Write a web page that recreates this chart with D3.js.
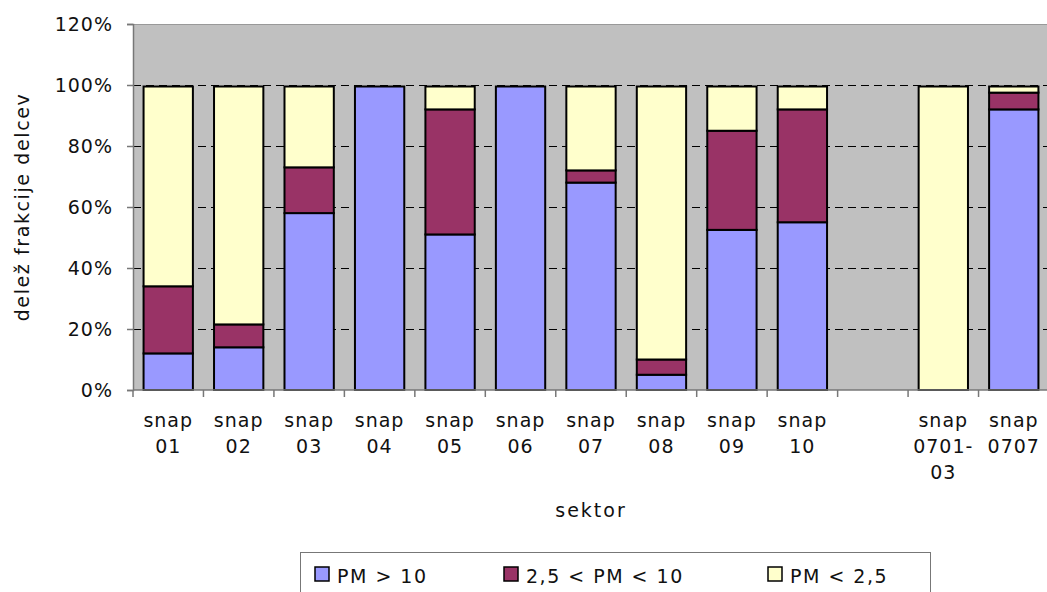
<!DOCTYPE html>
<html>
<head>
<meta charset="utf-8">
<script src="https://cdn.jsdelivr.net/npm/d3@7/dist/d3.min.js"></script>
<style>
  html, body { margin: 0; padding: 0; background: #fff; }
  svg { display: block; }
  text { font-family: "DejaVu Sans", Verdana, sans-serif; fill: #111; }
</style>
</head>
<body>
<svg id="chart" width="1047" height="592"></svg>
<script>
// ---- data ----
const categories = ["snap 01", "snap 02", "snap 03", "snap 04", "snap 05", "snap 06", "snap 07",
                    "snap 08", "snap 09", "snap 10", "", "snap 0701-03", "snap 0707"];
const tickLabels = [["snap", "01"], ["snap", "02"], ["snap", "03"], ["snap", "04"], ["snap", "05"],
                    ["snap", "06"], ["snap", "07"], ["snap", "08"], ["snap", "09"], ["snap", "10"],
                    [], ["snap", "0701-", "03"], ["snap", "0707"]];
const seriesNames = ["PM > 10", "2,5 < PM < 10", "PM < 2,5"];
const pmGt10 = [12, 14, 58, 100, 51, 100, 68, 5, 52.5, 55, null, 0, 92];
const pmMid  = [22, 7.5, 15, 0, 41, 0, 4, 5, 32.5, 37, null, 0, 5.5];
const pmLt25 = [66, 78.5, 27, 0, 8, 0, 28, 90, 15, 8, null, 100, 2.5];
const yTicks = [0, 20, 40, 60, 80, 100, 120];
const yTitle = "delež frakcije delcev";
const xTitle = "sektor";
const colors = ["#9999FF", "#993366", "#FFFFCC"];

// ---- layout ----
const svg = d3.select("#chart");
const plot = { left: 133, top: 24, right: 1049, bottom: 390 };
const FS = 19;

const x = d3.scaleBand().domain(d3.range(categories.length))
  .range([plot.left, plot.right]).paddingInner(0.3).paddingOuter(0.15);
const y = d3.scaleLinear().domain([0, 120]).range([plot.bottom, plot.top]);

// background
svg.append("rect")
  .attr("x", plot.left).attr("y", plot.top)
  .attr("width", plot.right - plot.left).attr("height", plot.bottom - plot.top)
  .attr("fill", "#C0C0C0");
svg.append("line").attr("x1", plot.left).attr("x2", plot.right)
  .attr("y1", plot.top + 0.5).attr("y2", plot.top + 0.5)
  .attr("stroke", "#999").attr("stroke-width", 1);

// gridlines
svg.append("g").selectAll("line").data(yTicks.filter(t => t > 0 && t < 120)).join("line")
  .attr("x1", plot.left).attr("x2", plot.right)
  .attr("y1", d => Math.round(y(d)) + 0.5).attr("y2", d => Math.round(y(d)) + 0.5)
  .attr("stroke", "#000").attr("stroke-width", 1).attr("stroke-dasharray", "8,5");

// stacked bars
const rows = categories.map((c, i) => ({ i, a: pmGt10[i], b: pmMid[i], c: pmLt25[i] }))
  .filter(r => r.a !== null);
const stacked = d3.stack().keys(["a", "b", "c"])(rows);
svg.append("g").selectAll("g").data(stacked).join("g")
  .attr("fill", (d, k) => colors[k])
  .selectAll("rect").data(d => d).join("rect")
  .attr("x", d => x(d.data.i))
  .attr("width", x.bandwidth())
  .attr("y", d => y(d[1]) + (d[1] >= 100 ? 1.5 : 0))
  .attr("height", d => Math.max(0, y(d[0]) - y(d[1]) - (d[1] >= 100 ? 1.5 : 0)))
  .attr("stroke", "#000").attr("stroke-width", 2);

// y axis
const yAxis = d3.axisLeft(y).tickValues(yTicks).tickFormat(d => d + "%").tickSize(6).tickPadding(14);
const gy = svg.append("g").attr("transform", `translate(${plot.left},0)`).call(yAxis);
gy.select(".domain").attr("stroke", "#777").attr("stroke-width", 1.5);
gy.selectAll(".tick line").attr("stroke", "#777").attr("stroke-width", 1.5);
gy.selectAll(".tick text").attr("font-size", FS).attr("letter-spacing", 1)
  .attr("font-family", "DejaVu Sans, Verdana, sans-serif").attr("fill", "#111").attr("dy", "0.35em");

// x axis with ticks at category boundaries
svg.append("line").attr("x1", plot.left).attr("x2", plot.right)
  .attr("y1", plot.bottom).attr("y2", plot.bottom)
  .attr("stroke", "#777").attr("stroke-width", 1.5);
const bx = d3.range(categories.length + 1).map(i => x(0) - x.paddingOuter() * x.step() - x.paddingInner() * x.step() / 2 * 0 + i * x.step());
svg.append("g").selectAll("line").data(bx).join("line")
  .attr("x1", d => d).attr("x2", d => d)
  .attr("y1", plot.bottom).attr("y2", plot.bottom + 7)
  .attr("stroke", "#777").attr("stroke-width", 1.5);

// x tick labels
const gl = svg.append("g");
tickLabels.forEach((lines, i) => {
  const cx = x(i) + x.bandwidth() / 2;
  const t = gl.append("text").attr("text-anchor", "middle")
    .attr("font-size", FS).attr("letter-spacing", 1);
  lines.forEach((ln, k) => {
    t.append("tspan").attr("x", cx).attr("y", 427 + k * 26).text(ln);
  });
});

// axis titles
svg.append("text")
  .attr("transform", `translate(29,${(plot.top + plot.bottom) / 2}) rotate(-90)`)
  .attr("text-anchor", "middle").attr("font-size", FS).attr("letter-spacing", 1.6)
  .text(yTitle);
svg.append("text")
  .attr("x", (plot.left + plot.right) / 2).attr("y", 517)
  .attr("text-anchor", "middle").attr("font-size", FS).attr("letter-spacing", 2)
  .text(xTitle);

// legend
const legend = svg.append("g");
legend.append("rect").attr("x", 300.5).attr("y", 552.5).attr("width", 630).attr("height", 60)
  .attr("fill", "#fff").attr("stroke", "#777").attr("stroke-width", 1);
const legX = [315, 504, 768];
seriesNames.forEach((name, k) => {
  legend.append("rect").attr("x", legX[k]).attr("y", 567).attr("width", 14).attr("height", 14)
    .attr("fill", colors[k]).attr("stroke", "#000").attr("stroke-width", 1.5);
  legend.append("text").attr("x", legX[k] + 22).attr("y", 583)
    .attr("font-size", FS).attr("letter-spacing", 1.5).text(name);
});
</script>
</body>
</html>
